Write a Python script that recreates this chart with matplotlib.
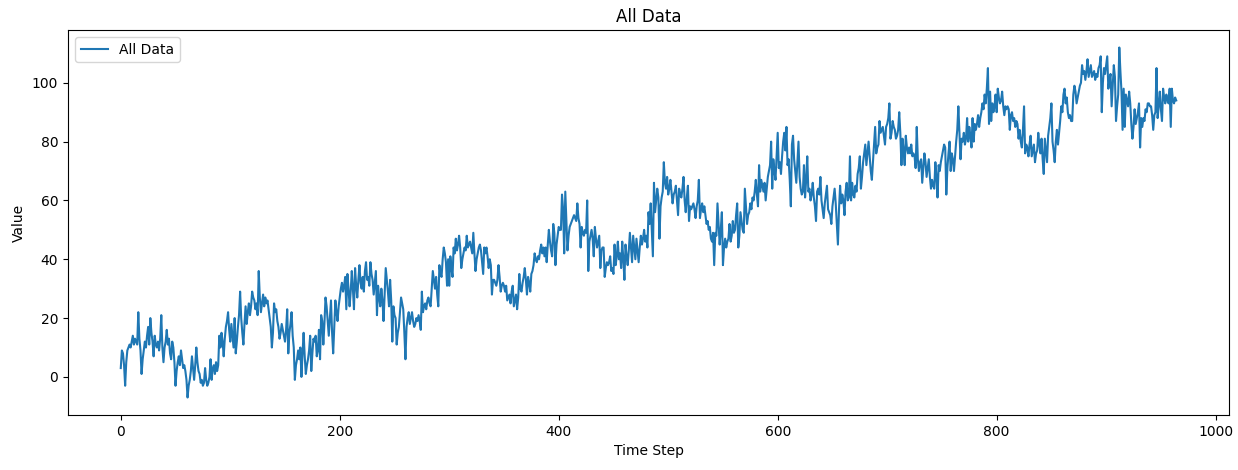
import matplotlib.pyplot as plt

# series values, one per time step
values = [
    3, 9, 8, 4, -3, 5, 9, 10, 11, 10,
    12, 14, 11, 13, 12, 11, 22, 13, 9, 1,
    6, 9, 12, 10, 14, 17, 11, 20, 15, 12,
    7, 14, 11, 10, 12, 9, 13, 21, 10, 5,
    10, 12, 16, 11, 13, 8, 6, 12, 10, 5,
    -3, 2, 5, 7, 4, 9, 6, 3, 4, 2,
    -1, -7, -3, -1, 2, 7, 3, -1, 4, 10,
    5, 2, 1, -2, -1, -3, -2, 3, -1, -3,
    -2, 0, 6, -1, 3, 4, 1, 5, 2, 4,
    14, 10, 15, 12, 7, 13, 17, 19, 22, 16, 12,
    18, 14, 10, 20, 8, 12, 17, 21, 29, 20,
    15, 11, 18, 24, 18, 22, 25, 21, 24, 29,
    27, 26, 23, 25, 21, 36, 27, 22, 25, 28,
    24, 27, 25, 26, 23, 20, 17, 10, 15, 25,
    22, 23, 19, 17, 13, 15, 18, 16, 14, 12,
    16, 23, 8, 15, 18, 22, 14, 10, -1, 4,
    6, 9, 6, 10, 0, 8, 15, 7, 1, 4,
    6, 9, 14, 2, 8, 13, 12, 14, 7, 9,
    16, 6, 21, 19, 11, 18, 27, 24, 19, 14,
    20, 26, 15, 8, 17, 26, 22, 19, 24, 27, 30,
    32, 29, 31, 34, 23, 35, 30, 24, 29, 36,
    30, 23, 37, 31, 27, 33, 38, 32, 30, 34,
    29, 36, 39, 33, 34, 31, 39, 35, 33, 28,
    32, 36, 21, 31, 27, 24, 30, 26, 19, 28,
    37, 33, 29, 24, 33, 26, 12, 24, 21, 20,
    11, 15, 17, 22, 27, 25, 23, 15, 6, 17,
    20, 22, 18, 20, 22, 19, 17, 18, 20, 19,
    21, 19, 16, 29, 22, 24, 25, 23, 26, 27,
    25, 24, 30, 36, 33, 30, 34, 28, 24, 38, 35,
    34, 40, 44, 42, 39, 31, 40, 31, 41, 37,
    34, 44, 42, 47, 43, 45, 48, 44, 37, 40,
    42, 44, 43, 48, 44, 45, 46, 44, 42, 49,
    42, 36, 40, 42, 44, 45, 43, 39, 35, 44,
    42, 44, 41, 37, 40, 38, 28, 33, 33, 32,
    31, 33, 38, 34, 29, 31, 32, 31, 29, 31,
    26, 27, 28, 25, 29, 31, 24, 26, 28, 23,
    27, 35, 30, 29, 32, 34, 37, 33, 28, 34,
    32, 29, 35, 36, 38, 42, 40, 39, 41, 40,
    43, 45, 42, 44, 41, 44, 39, 45, 50, 46, 43,
    41, 52, 49, 38, 45, 48, 51, 50, 50, 62,
    57, 42, 63, 53, 43, 48, 51, 52, 53, 54,
    55, 54, 53, 59, 54, 52, 44, 51, 49, 48,
    50, 49, 60, 36, 46, 48, 50, 47, 41, 51,
    47, 44, 46, 48, 37, 43, 44, 44, 34, 37,
    39, 38, 39, 41, 36, 37, 35, 45, 38, 41,
    46, 40, 42, 37, 46, 40, 33, 45, 41, 38,
    43, 49, 44, 39, 48, 44, 40, 47, 43, 39,
    44, 48, 45, 47, 50, 46, 48, 44, 56, 52, 59,
    50, 41, 66, 56, 60, 64, 61, 47, 58, 61,
    63, 73, 66, 64, 68, 62, 64, 67, 63, 59,
    62, 63, 65, 60, 55, 64, 62, 61, 64, 68,
    60, 56, 61, 65, 53, 58, 57, 58, 59, 57,
    54, 58, 60, 67, 54, 57, 59, 56, 58, 55,
    52, 53, 50, 51, 47, 46, 49, 38, 49, 48,
    59, 52, 45, 50, 56, 38, 44, 47, 44, 46,
    47, 52, 46, 48, 53, 49, 50, 55, 59, 44,
    48, 56, 53, 50, 49, 64, 58, 52, 55, 56,
    59, 57, 61, 60, 63, 67, 62, 58, 72, 63, 67,
    65, 63, 66, 60, 64, 68, 70, 72, 80, 64,
    74, 70, 67, 75, 83, 71, 73, 69, 75, 80,
    83, 77, 85, 72, 74, 67, 58, 79, 82, 74,
    70, 66, 73, 80, 68, 64, 62, 63, 72, 61,
    67, 75, 63, 64, 60, 62, 66, 61, 58, 53,
    63, 64, 62, 68, 60, 57, 54, 59, 62, 65,
    57, 56, 55, 52, 58, 61, 64, 59, 52, 45,
    57, 65, 59, 62, 60, 55, 63, 66, 60, 61,
    75, 60, 66, 62, 61, 65, 63, 69, 71, 75, 64,
    68, 73, 76, 79, 72, 76, 80, 75, 70, 67,
    73, 79, 85, 76, 78, 79, 87, 83, 84, 85,
    82, 79, 85, 86, 88, 93, 81, 83, 87, 85,
    84, 81, 82, 84, 90, 83, 72, 81, 77, 72,
    82, 78, 76, 78, 76, 79, 75, 76, 75, 71,
    85, 74, 70, 73, 74, 66, 71, 76, 73, 68,
    71, 74, 68, 64, 67, 65, 64, 73, 68, 61,
    72, 70, 73, 75, 77, 79, 78, 62, 71, 76,
    80, 70, 76, 74, 70, 75, 80, 84, 92, 83,
    74, 81, 80, 83, 79, 81, 88, 80, 85, 82, 78,
    88, 80, 86, 84, 86, 89, 85, 88, 90, 93,
    91, 96, 93, 98, 105, 86, 97, 87, 93, 90,
    92, 96, 90, 98, 95, 93, 94, 97, 92, 89,
    92, 91, 92, 91, 84, 89, 90, 87, 88, 85,
    87, 86, 81, 84, 80, 78, 84, 92, 76, 79,
    78, 75, 79, 82, 75, 77, 79, 73, 76, 77,
    83, 79, 76, 81, 74, 69, 81, 77, 73, 82,
    85, 88, 93, 80, 77, 73, 80, 84, 79, 83,
    87, 92, 90, 96, 98, 93, 95, 90, 88, 89, 87,
    87, 96, 99, 97, 93, 95, 97, 99, 100, 106,
    103, 104, 101, 104, 108, 102, 104, 106, 102, 103,
    104, 101, 103, 102, 105, 106, 109, 90, 100, 105,
    103, 106, 109, 98, 101, 103, 92, 99, 106, 102,
    87, 92, 96, 112, 104, 97, 84, 98, 85, 96,
    94, 92, 97, 93, 86, 81, 85, 91, 86, 88,
    90, 93, 78, 88, 85, 88, 87, 91, 90, 93,
    93, 92, 92, 89, 84, 89, 90, 105, 88, 92, 97,
    91, 87, 98, 95, 93, 96, 94, 93, 98, 85,
    98, 94, 93, 95, 94,
]
time_steps = list(range(len(values)))

series_label = "All Data"
title = "All Data"
x_label = "Time Step"
y_label = "Value"

fig = plt.figure(figsize=(12.38, 4.70), dpi=100)
ax = fig.add_axes([68 / 1238, 55 / 470, 1161 / 1238, 385 / 470])

ax.plot(time_steps, values, label=series_label)

ax.set_title(title)
ax.set_xlabel(x_label)
ax.set_ylabel(y_label)
ax.legend(loc="upper left")

plt.savefig("out.png", dpi=100)
plt.close()
